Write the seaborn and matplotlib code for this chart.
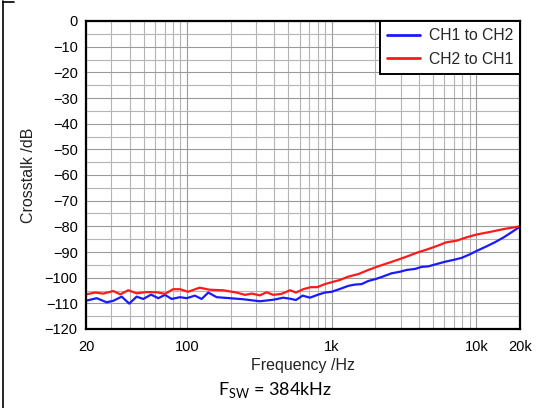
import numpy as np
import pandas as pd
import seaborn as sns
import matplotlib
matplotlib.use("Agg")
import matplotlib.pyplot as plt
from matplotlib.lines import Line2D
from matplotlib.ticker import FixedLocator, NullFormatter, MultipleLocator

# Crosstalk measurements (Hz, dB)
ch1_to_ch2_freq = [20, 23.7, 27.8, 30.9, 35.3, 39.8, 44.8, 49.8, 56.3, 63.2, 70.3, 78.2,
                   89.3, 99.3, 113, 126, 140, 160, 198, 244, 318, 394, 462, 514, 565,
                   629, 706, 806, 897, 998, 1138, 1300, 1445, 1608, 1786, 2018, 2270,
                   2590, 2957, 3289, 3755, 4179, 4637, 5303, 6057, 6907, 7887, 9008,
                   10283, 11748, 13420, 15316, 17500, 20000]
ch1_to_ch2_db = [-109.0, -108.0, -109.6, -109.0, -107.4, -110.1, -107.4, -108.3, -106.6,
                 -108.0, -106.7, -108.3, -107.6, -108.0, -107.0, -108.3, -105.8, -107.6,
                 -108.0, -108.4, -109.2, -108.6, -107.8, -108.2, -108.7, -107.0, -107.8,
                 -106.6, -105.8, -105.5, -104.4, -103.2, -102.7, -102.5, -101.3, -100.5,
                 -99.5, -98.3, -97.7, -97.0, -96.6, -95.8, -95.6, -94.7, -93.8, -93.1,
                 -92.3, -90.9, -89.3, -87.8, -86.2, -84.4, -82.3, -80.1]

ch2_to_ch1_freq = [20, 23.1, 26.3, 30.9, 34.5, 39.2, 44.8, 52.6, 61.9, 70.3, 80, 89.3,
                   101.5, 122, 143, 177, 220, 251, 280, 318, 354, 394, 450, 514, 565,
                   634, 714, 792, 897, 1023, 1138, 1300, 1526, 1786, 2040, 2390, 2800,
                   3289, 3950, 4510, 5303, 6210, 7280, 8530, 10000, 12380, 15316, 20000]
ch2_to_ch1_db = [-106.5, -105.8, -106.2, -105.2, -106.5, -104.9, -106.1, -105.6, -105.7,
                 -106.3, -104.5, -104.5, -105.5, -103.9, -104.7, -104.9, -105.8, -106.7,
                 -106.2, -106.9, -105.7, -106.7, -106.3, -104.9, -105.8, -104.5, -103.7,
                 -103.7, -102.5, -101.6, -100.9, -99.6, -98.6, -97.0, -95.8, -94.5, -93.2,
                 -91.8, -90.1, -89.1, -87.7, -86.2, -85.6, -84.3, -83.2, -82.2, -81.1, -80.0]

series_names = ["CH1 to CH2", "CH2 to CH1"]
series_colors = ["#1a1aff", "#ff1a1a"]

x_tick_values = [20, 100, 1000, 10000, 20000]
x_tick_labels = ["20", "100", "1k", "10k", "20k"]

df = pd.concat([
    pd.DataFrame({"freq": ch1_to_ch2_freq, "db": ch1_to_ch2_db, "series": series_names[0]}),
    pd.DataFrame({"freq": ch2_to_ch1_freq, "db": ch2_to_ch1_db, "series": series_names[1]}),
], ignore_index=True)

sns.set_style("white")
plt.rcParams["font.family"] = ["Liberation Sans", "DejaVu Sans"]
plt.rcParams["mathtext.fontset"] = "custom"
plt.rcParams["mathtext.rm"] = "Lato"

fig = plt.figure(figsize=(5.51, 4.08), dpi=100)
ax = fig.add_axes([86 / 551, 1 - 329 / 408, 434 / 551, 308 / 408])

sns.lineplot(data=df, x="freq", y="db", hue="series", hue_order=series_names,
             palette=series_colors, linewidth=1.6, ax=ax, legend=False, sort=False)

ax.set_xscale("log")
ax.set_xlim(20, 20000)
ax.set_ylim(-120, 0)

minor_x = [m * 10 ** e for e in range(1, 5) for m in range(2, 10) if 20 <= m * 10 ** e <= 20000]
ax.xaxis.set_major_locator(FixedLocator(x_tick_values))
ax.set_xticklabels(x_tick_labels)
ax.xaxis.set_minor_locator(FixedLocator(minor_x))
ax.xaxis.set_minor_formatter(NullFormatter())
ax.yaxis.set_major_locator(MultipleLocator(10))
ax.yaxis.set_minor_locator(MultipleLocator(5))

ax.grid(True, which="major", color="#9a9a9a", linewidth=0.8)
ax.grid(True, which="minor", color="#b4b4b4", linewidth=0.8)
ax.set_axisbelow(True)

ax.tick_params(which="both", length=0, labelsize=10.5, colors="black")
ax.tick_params(axis="y", pad=6)
ax.tick_params(axis="x", pad=8)
for sp in ax.spines.values():
    sp.set_visible(True)
    sp.set_color("black")
    sp.set_linewidth(1.6)

ax.set_xlabel("Frequency /Hz", fontsize=11.5, color="#222222", labelpad=3)
ax.set_ylabel("Crosstalk /dB", fontsize=11.5, color="#222222", labelpad=6)

handles = [Line2D([0], [0], color=c, linewidth=2) for c in series_colors]
leg = ax.legend(handles, series_names, loc="upper right", bbox_to_anchor=(1.0, 1.0),
                borderaxespad=0, fontsize=11.3, frameon=True, fancybox=False,
                handlelength=2.1, handletextpad=0.55, borderpad=0.45, labelspacing=0.55)
leg.get_frame().set_edgecolor("black")
leg.get_frame().set_linewidth(1.4)
leg.get_frame().set_alpha(1)

fig.text(0.5, 1 - 390 / 408, r"F$_{\mathregular{SW}}$ = 384kHz", ha="center", va="center",
         fontsize=13, family=["Lato", "DejaVu Sans"], color="black")

# page frame edges
fig.add_artist(Line2D([2.5 / 551, 2.5 / 551], [0, 1 - 1 / 408], color="black", linewidth=1.2,
                      transform=fig.transFigure))
fig.add_artist(Line2D([2.5 / 551, 14 / 551], [1 - 1.5 / 408, 1 - 1.5 / 408], color="black",
                      linewidth=1.2, transform=fig.transFigure))

fig.savefig("out.png", dpi=100)
